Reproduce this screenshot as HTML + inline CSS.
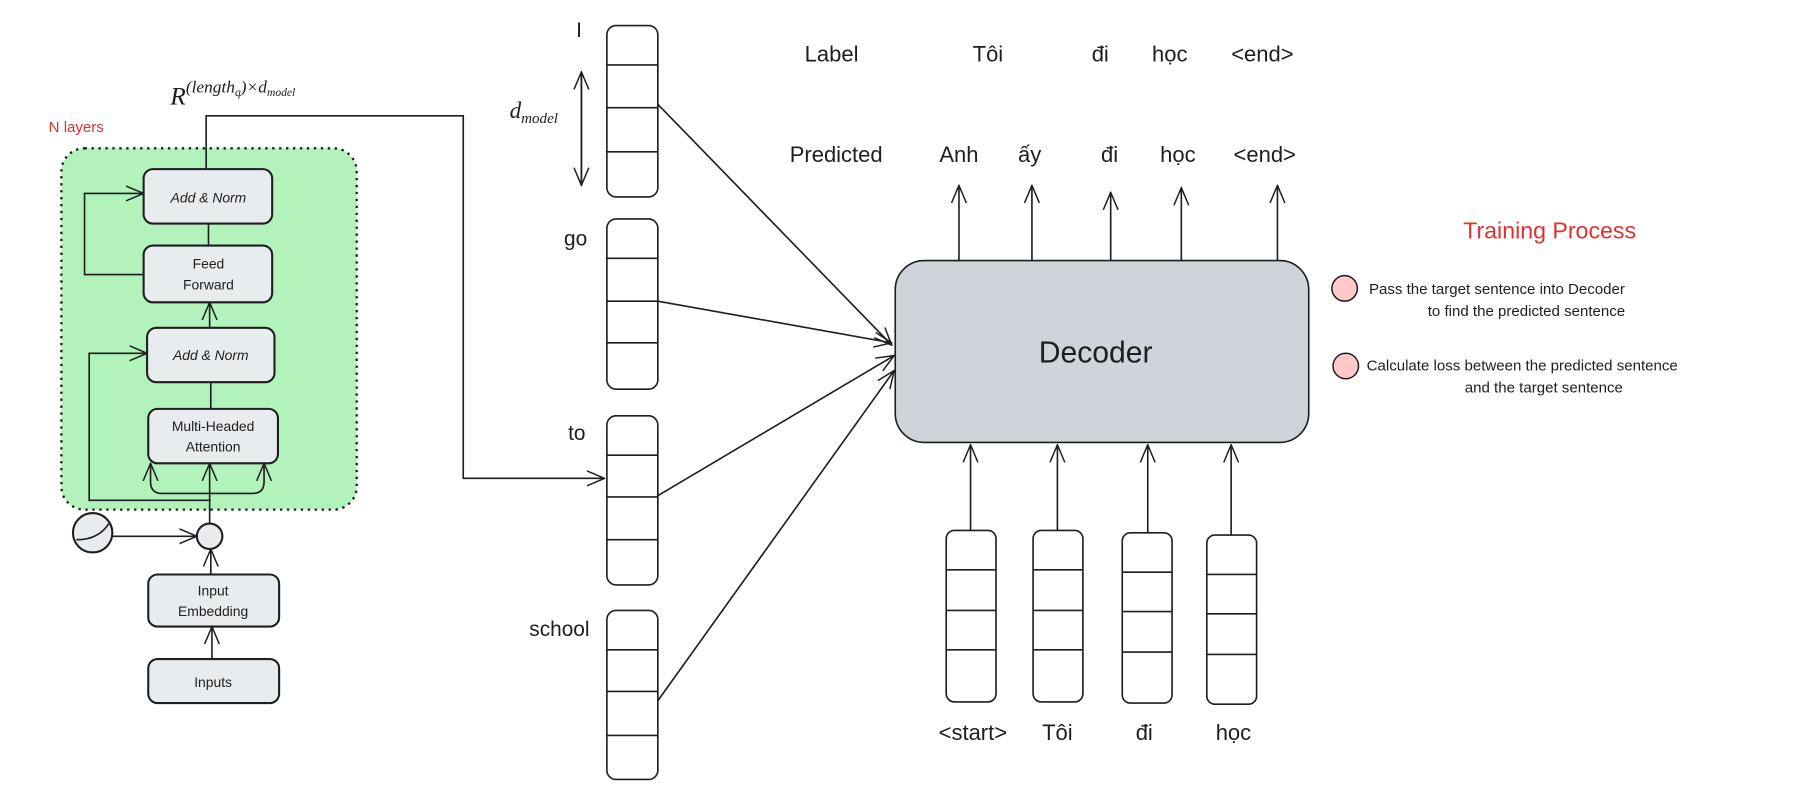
<!DOCTYPE html>
<html><head><meta charset="utf-8"><style>
html,body{margin:0;padding:0;background:#fff;width:1816px;height:786px;overflow:hidden}
svg{display:block}
text{font-family:"Liberation Sans","Noto Sans CJK SC",sans-serif;fill:#1e1e1e}
.s{stroke:#1e1e1e;stroke-width:1.4;fill:none}
.b{fill:#e9ecef;stroke:#1e1e1e;stroke-width:1.8}
.v{fill:#fff;stroke:#1e1e1e;stroke-width:1.4}
</style></head><body>
<svg width="1816" height="786" viewBox="0 0 1568 678.6" xmlns="http://www.w3.org/2000/svg">
<defs>
<marker id="a" viewBox="0 0 20 20" refX="19" refY="10" markerWidth="16" markerHeight="16" markerUnits="userSpaceOnUse" orient="auto">
<path d="M0,2 L19,10 L0,18" fill="none" stroke="#1e1e1e" stroke-width="1.6"/></marker>
</defs>
<rect x="53" y="128" width="255" height="312" rx="20" fill="#b2f2bb" stroke="#1e1e1e" stroke-width="2" stroke-dasharray="2,4"/>
<text x="42" y="114" font-size="13" style="fill:#e03131">N layers</text>
<text x="147" y="90" font-size="22" font-style="italic" style="font-family:'Liberation Serif',serif">R<tspan font-size="15" dy="-10">(length</tspan><tspan font-size="10" dy="3">q</tspan><tspan font-size="15" dy="-3">)×d</tspan><tspan font-size="10" dy="3">model</tspan></text>
<path class="s" d="M178,146 V100 H400 V413 H522" marker-end="url(#a)"/>
<path class="s" d="M180,193 V212"/>
<path class="s" d="M124,237 H73 V167 H124" marker-end="url(#a)"/>
<path class="s" d="M181,283 V261" marker-end="url(#a)"/>
<path class="s" d="M182,330 V353"/>
<path class="s" d="M182,432 H77 V305 H127" marker-end="url(#a)"/>
<path class="s" d="M181,452 V400" marker-end="url(#a)"/>
<path class="s" d="M181,426 H140 Q130,426 130,416 V400" marker-end="url(#a)"/>
<path class="s" d="M181,426 H218 Q228,426 228,416 V400" marker-end="url(#a)"/>
<path class="s" d="M97,463 H170" marker-end="url(#a)"/>
<path class="s" d="M182,496 V474" marker-end="url(#a)"/>
<path class="s" d="M183,569 V541" marker-end="url(#a)"/>
<rect class="b" x="124" y="146" width="111" height="47" rx="8"/>
<text x="180" y="175" font-size="12" text-anchor="middle" font-style="italic">Add &amp; Norm</text>
<rect class="b" x="124" y="212" width="111" height="49" rx="8"/>
<text x="180" y="232" font-size="12" text-anchor="middle">Feed</text>
<text x="180" y="250" font-size="12" text-anchor="middle">Forward</text>
<rect class="b" x="127" y="283" width="110" height="47" rx="8"/>
<text x="182" y="311" font-size="12" text-anchor="middle" font-style="italic">Add &amp; Norm</text>
<rect class="b" x="128" y="353" width="112" height="47" rx="8"/>
<text x="184" y="372" font-size="12" text-anchor="middle">Multi-Headed</text>
<text x="184" y="390" font-size="12" text-anchor="middle">Attention</text>
<rect class="b" x="128" y="496" width="113" height="45" rx="8"/>
<text x="184" y="514" font-size="12" text-anchor="middle">Input</text>
<text x="184" y="532" font-size="12" text-anchor="middle">Embedding</text>
<rect class="b" x="128" y="569" width="113" height="38" rx="8"/>
<text x="184" y="593" font-size="12" text-anchor="middle">Inputs</text>
<circle cx="181" cy="463" r="11" class="b"/>
<circle cx="80" cy="460" r="17" class="b"/>
<path class="s" d="M66,466 Q85,466 94,452" stroke-width="1"/>
<g>
<rect class="v" x="524" y="22" width="44" height="148" rx="8"/><path class="s" d="M524,56H568M524,93H568M524,131H568"/>
<rect class="v" x="524" y="189" width="44" height="147" rx="8"/><path class="s" d="M524,223H568M524,260H568M524,296H568"/>
<rect class="v" x="524" y="359" width="44" height="146" rx="8"/><path class="s" d="M524,393H568M524,429H568M524,466H568"/>
<rect class="v" x="524" y="527" width="44" height="146" rx="8"/><path class="s" d="M524,561H568M524,597H568M524,635H568"/>
</g>
<text x="500" y="32" font-size="18" text-anchor="middle">I</text>
<text x="497" y="212" font-size="18" text-anchor="middle">go</text>
<text x="498" y="380" font-size="18" text-anchor="middle">to</text>
<text x="483" y="549" font-size="18" text-anchor="middle">school</text>
<text x="440" y="102" font-size="20" style="font-family:'Liberation Serif',serif" font-style="italic">d<tspan font-size="13" dy="4">model</tspan></text>
<path class="s" d="M502,160 V62" marker-end="url(#a)"/>
<path class="s" d="M502,62 V160" marker-end="url(#a)"/>
<path class="s" d="M568,90 L770,298" marker-end="url(#a)"/>
<path class="s" d="M568,260 L770,296" marker-end="url(#a)"/>
<path class="s" d="M568,428 L772,307" marker-end="url(#a)"/>
<path class="s" d="M568,605 L772,320" marker-end="url(#a)"/>
<rect x="773" y="225" width="357" height="157" rx="25" fill="#ced4da" stroke="#1e1e1e" stroke-width="1.4"/>
<text x="946" y="313" font-size="26" text-anchor="middle">Decoder</text>
<path class="s" d="M828,225V160" marker-end="url(#a)"/>
<path class="s" d="M891,225V160" marker-end="url(#a)"/>
<path class="s" d="M959,225V166" marker-end="url(#a)"/>
<path class="s" d="M1020,225V162" marker-end="url(#a)"/>
<path class="s" d="M1103,225V160" marker-end="url(#a)"/>
<g font-size="19">
<text x="722" y="140" text-anchor="middle">Predicted</text>
<text x="828" y="140" text-anchor="middle">Anh</text>
<text x="889" y="140" text-anchor="middle">ấy</text>
<text x="958" y="140" text-anchor="middle">đi</text>
<text x="1017" y="140" text-anchor="middle">học</text>
<text x="1092" y="140" text-anchor="middle">&lt;end&gt;</text>
<text x="718" y="53" text-anchor="middle">Label</text>
<text x="853" y="53" text-anchor="middle">Tôi</text>
<text x="950" y="53" text-anchor="middle">đi</text>
<text x="1010" y="53" text-anchor="middle">học</text>
<text x="1090" y="53" text-anchor="middle">&lt;end&gt;</text>
<text x="840" y="639" text-anchor="middle">&lt;start&gt;</text>
<text x="913" y="639" text-anchor="middle">Tôi</text>
<text x="988" y="639" text-anchor="middle">đi</text>
<text x="1065" y="639" text-anchor="middle">học</text>
</g>
<rect class="v" x="817" y="458" width="43" height="148" rx="7"/><path class="s" d="M817,492H860M817,527H860M817,561H860"/>
<rect class="v" x="892" y="458" width="43" height="148" rx="7"/><path class="s" d="M892,492H935M892,527H935M892,561H935"/>
<rect class="v" x="969" y="460" width="43" height="147" rx="7"/><path class="s" d="M969,494H1012M969,528H1012M969,563H1012"/>
<rect class="v" x="1042" y="462" width="43" height="146" rx="7"/><path class="s" d="M1042,496H1085M1042,530H1085M1042,565H1085"/>
<path class="s" d="M838,458V384" marker-end="url(#a)"/>
<path class="s" d="M913,458V384" marker-end="url(#a)"/>
<path class="s" d="M991,460V384" marker-end="url(#a)"/>
<path class="s" d="M1063,462V384" marker-end="url(#a)"/>
<text x="1338" y="206" font-size="20" text-anchor="middle" style="fill:#e03131">Training Process</text>
<circle cx="1161" cy="249" r="11" fill="#ffc9c9" stroke="#1e1e1e" stroke-width="1.3"/>
<circle cx="1162" cy="316" r="11" fill="#ffc9c9" stroke="#1e1e1e" stroke-width="1.3"/>
<g font-size="13">
<text x="1182" y="254">Pass the target sentence into Decoder</text>
<text x="1318" y="273" text-anchor="middle">to find the predicted sentence</text>
<text x="1180" y="320">Calculate loss between the predicted sentence</text>
<text x="1333" y="339" text-anchor="middle">and the target sentence</text>
</g>
</svg>
</body></html>
